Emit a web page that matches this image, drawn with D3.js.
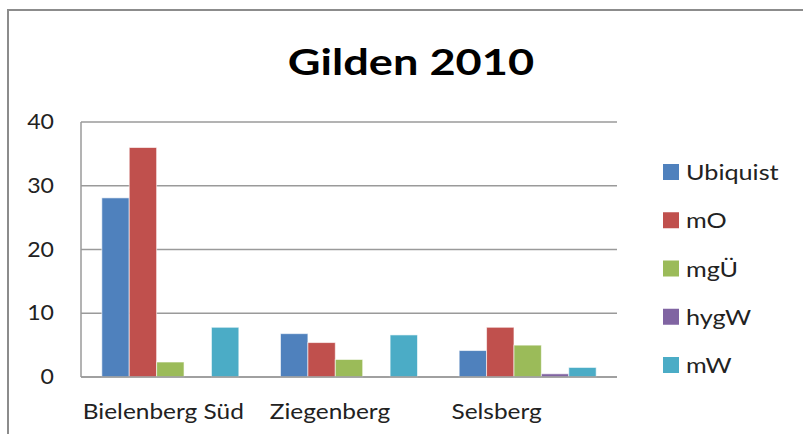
<!DOCTYPE html>
<html>
<head>
<meta charset="utf-8">
<script src="https://cdn.jsdelivr.net/npm/d3@7"></script>
<style>
  body { margin: 0; background: #fff; }
  text { font-family: Lato, "Open Sans", sans-serif; fill: #222; }
</style>
</head>
<body>
<div id="chart"></div>
<script>
// data
const categories = ["Bielenberg Süd", "Ziegenberg", "Selsberg"];
const seriesNames = ["Ubiquist", "mO", "mgÜ", "hygW", "mW"];
const seriesColors = ["#4F81BD", "#C0504D", "#9BBB59", "#8064A2", "#4BACC6"];
const ubiquist = [28.1, 6.8, 4.15];
const mO = [36.0, 5.4, 7.8];
const mgU = [2.35, 2.75, 5.0];
const hygW = [0, 0, 0.5];
const mW = [7.8, 6.6, 1.5];
const yTicks = [0, 10, 20, 30, 40];

const values = [ubiquist, mO, mgU, hygW, mW];

const width = 803, height = 434;
const plot = {left: 81, right: 617, top: 122, bottom: 377};

const svg = d3.select("#chart").append("svg")
  .attr("width", width)
  .attr("height", height);

// the original text is a bit wider than Lato, stretch it
function stretch(sel, k) {
  sel.each(function() {
    const w = this.getComputedTextLength();
    d3.select(this)
      .attr("textLength", w * k)
      .attr("lengthAdjust", "spacingAndGlyphs");
  });
}

// outer frame (only top and left visible)
svg.append("path")
  .attr("d", `M8,${height + 5} L8,10 L${width + 5},10`)
  .attr("fill", "none")
  .attr("stroke", "#8c8c8c")
  .attr("stroke-width", 2);

// title
svg.append("text")
  .attr("x", 411)
  .attr("y", 75)
  .attr("text-anchor", "middle")
  .attr("font-size", 37)
  .attr("font-weight", "bold")
  .style("fill", "#000")
  .text("Gilden 2010")
  .call(stretch, 1.22);

const y = d3.scaleLinear().domain([0, 40]).range([plot.bottom, plot.top]);

const x0 = d3.scaleBand()
  .domain(categories)
  .range([plot.left, plot.right])
  .padding(0);

const x1 = d3.scaleBand()
  .domain(seriesNames)
  .range([0, x0.bandwidth()])
  .paddingInner(0)
  .paddingOuter(0.76);

// label positions as they sit in the original (slightly compressed)
const xLabel = d3.scaleBand()
  .domain(categories)
  .range([80, 580]);

// gridlines
svg.append("g")
  .selectAll("line")
  .data(yTicks)
  .join("line")
  .attr("x1", plot.left)
  .attr("x2", plot.right)
  .attr("y1", d => y(d))
  .attr("y2", d => y(d))
  .attr("stroke", "#9a9a9a")
  .attr("stroke-width", 1.5);

// y axis line
svg.append("line")
  .attr("x1", plot.left).attr("x2", plot.left)
  .attr("y1", plot.top).attr("y2", plot.bottom)
  .attr("stroke", "#9a9a9a")
  .attr("stroke-width", 1.5);

// y tick labels
svg.append("g")
  .selectAll("text")
  .data(yTicks)
  .join("text")
  .attr("x", 54)
  .attr("y", d => y(d) + 7)
  .attr("text-anchor", "end")
  .attr("font-size", 21)
  .text(d => d)
  .call(stretch, 1.1);

// bars
seriesNames.forEach((name, i) => {
  svg.append("g")
    .selectAll("rect")
    .data(values[i])
    .join("rect")
    .attr("x", (d, j) => x0(categories[j]) + x1(name))
    .attr("y", d => y(d))
    .attr("width", x1.bandwidth())
    .attr("height", d => y(0) - y(d))
    .attr("fill", seriesColors[i])
    .attr("stroke", "rgba(255,255,255,0.6)")
    .attr("stroke-width", 1);
});

// baseline over bars
svg.append("line")
  .attr("x1", plot.left).attr("x2", plot.right)
  .attr("y1", y(0)).attr("y2", y(0))
  .attr("stroke", "#9a9a9a")
  .attr("stroke-width", 1.5);

// x labels
svg.append("g")
  .selectAll("text")
  .data(categories)
  .join("text")
  .attr("x", d => xLabel(d) + xLabel.bandwidth() / 2)
  .attr("y", 419)
  .attr("text-anchor", "middle")
  .attr("font-size", 22)
  .text(d => d)
  .call(stretch, 1.11);

// legend
const legend = svg.append("g")
  .selectAll("g")
  .data(seriesNames)
  .join("g")
  .attr("transform", (d, i) => `translate(663, ${172 + i * 48.25})`);

legend.append("rect")
  .attr("x", 0)
  .attr("y", -8)
  .attr("width", 16)
  .attr("height", 16)
  .attr("fill", (d, i) => seriesColors[i]);

legend.append("text")
  .attr("x", 23)
  .attr("y", 8)
  .attr("font-size", 21)
  .text(d => d)
  .call(stretch, 1.2);
</script>
</body>
</html>
